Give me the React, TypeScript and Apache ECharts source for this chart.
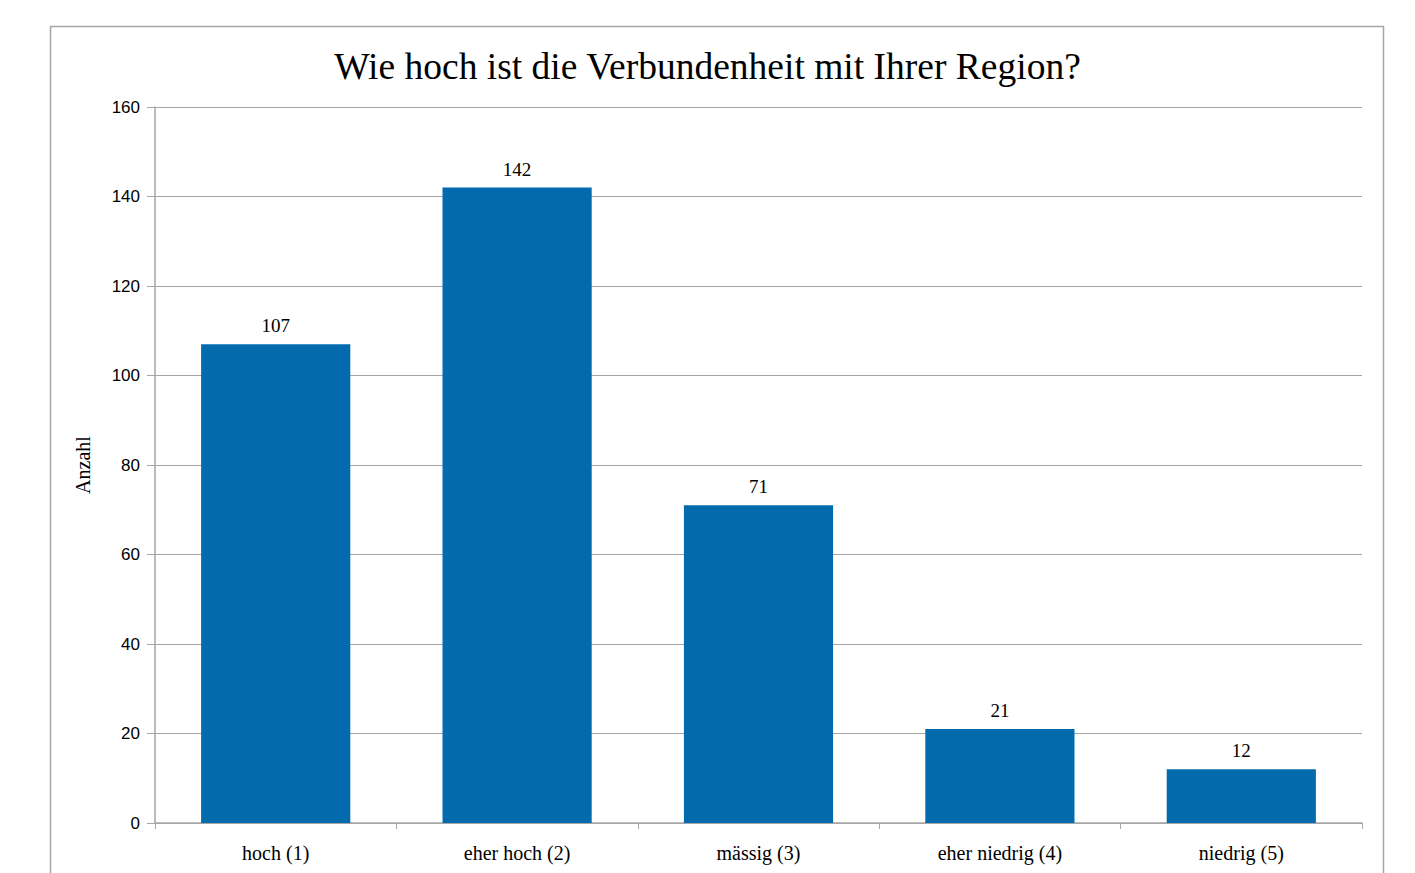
import React, { useEffect, useRef } from "react";
import * as echarts from "echarts";

const categories = ["hoch (1)", "eher hoch (2)", "mässig (3)", "eher niedrig (4)", "niedrig (5)"];
const values = [107, 142, 71, 21, 12];
const titleText = "Wie hoch ist die Verbundenheit mit Ihrer Region?";
const yAxisName = "Anzahl";

const SERIF = "'Liberation Serif', 'DejaVu Serif', serif";
const SANS = "'Liberation Sans', Arial, sans-serif";

export default function App() {
  const ref = useRef<HTMLDivElement>(null);
  useEffect(() => {
    if (!ref.current) return;
    const chart = echarts.init(ref.current, undefined, { renderer: "svg" });
    chart.setOption({
      animation: false,
      backgroundColor: "#ffffff",
      title: {
        text: titleText,
        left: "center",
        top: 42,
        textStyle: { fontFamily: SERIF, fontSize: 37.5, fontWeight: "normal", color: "#000" },
      },
      graphic: [
        {
          type: "rect",
          shape: { x: 50.5, y: 26.5, width: 1333, height: 900 },
          style: { fill: "none", stroke: "#a6a6a6", lineWidth: 1.5 },
          silent: true,
        },
      ],
      grid: { left: 155, right: 53, top: 107, bottom: 50 },
      xAxis: {
        type: "category",
        data: categories,
        axisLine: { lineStyle: { color: "#a6a6a6", width: 1.5 } },
        axisTick: { show: true, length: 6, lineStyle: { color: "#a6a6a6" } },
        axisLabel: { fontFamily: SERIF, fontSize: 20, color: "#000", margin: 20 },
      },
      yAxis: {
        type: "value",
        min: 0,
        max: 160,
        interval: 20,
        name: yAxisName,
        nameLocation: "middle",
        nameGap: 62,
        nameRotate: 90,
        nameTextStyle: { fontFamily: SERIF, fontSize: 20, color: "#000" },
        axisLine: { show: true, lineStyle: { color: "#a6a6a6", width: 1.5 } },
        axisTick: { show: true, length: 8, lineStyle: { color: "#a6a6a6" } },
        axisLabel: { fontFamily: SANS, fontSize: 17, color: "#000", margin: 15 },
        splitLine: { lineStyle: { color: "#a6a6a6", width: 1 } },
      },
      series: [
        {
          type: "bar",
          data: values,
          barWidth: "61.8%",
          itemStyle: { color: "#036aae" },
          label: {
            show: true,
            position: "top",
            distance: 9,
            fontFamily: SERIF,
            fontSize: 19,
            color: "#000",
          },
        },
      ],
    });
    return () => chart.dispose();
  }, []);
  return (
    <div
      ref={ref}
      style={{ position: "fixed", left: 0, top: 0, width: 1415, height: 873 }}
    />
  );
}
